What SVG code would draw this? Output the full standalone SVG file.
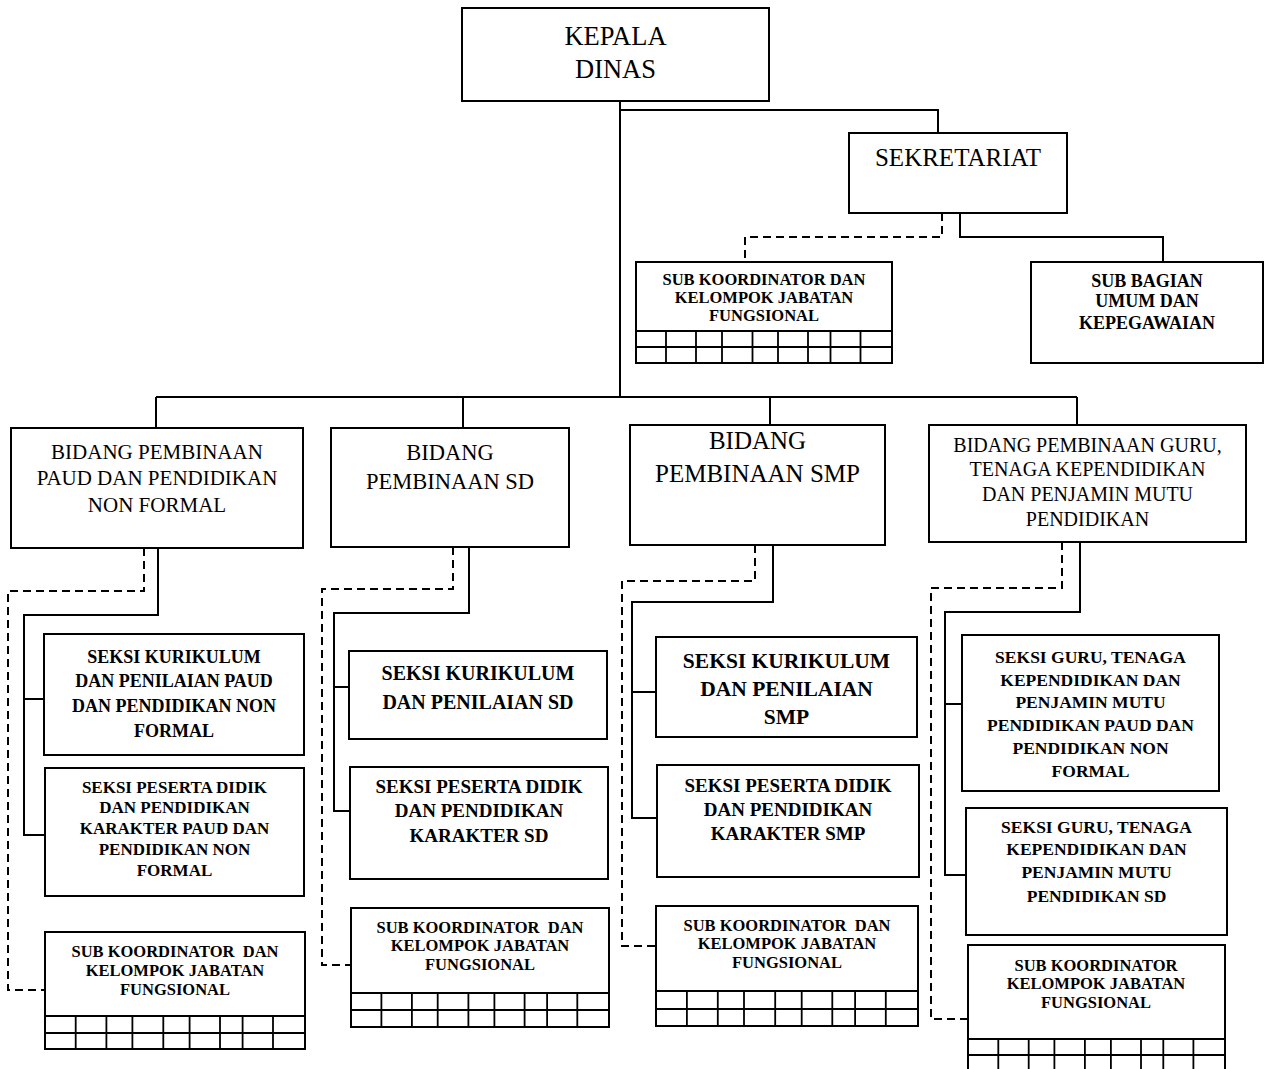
<svg xmlns="http://www.w3.org/2000/svg" width="1270" height="1069" viewBox="0 0 1270 1069">
<style>
.box{fill:#fff;stroke:#000;stroke-width:2}
.ln{fill:none;stroke:#000;stroke-width:2}
.ds{fill:none;stroke:#000;stroke-width:2;stroke-dasharray:8 5}
.g{fill:none;stroke:#000;stroke-width:1.8}
text{font-family:"Liberation Serif","Times New Roman",serif;fill:#000;text-anchor:middle}
.r{font-weight:normal}
.b{font-weight:bold}
</style>
<rect width="1270" height="1069" fill="#fff"/>
<g id="connectors">
<path class="ln" d="M620,101 V397 M620,110 H938 V133"/>
<path class="ds" d="M942,213 V237 H745 V262"/>
<path class="ln" d="M960,213 V237 H1163 V262"/>
<path class="ln" d="M156,397 H1077 M156,397 V428 M463,397 V428 M770,397 V425 M1077,397 V425"/>
<path class="ds" d="M144,548 V591 H8 V990 H45"/>
<path class="ln" d="M158,548 V615 H24 V835 H45 M24,699 H44"/>
<path class="ds" d="M453,547 V589 H322 V965 H351"/>
<path class="ln" d="M469,547 V613 H334 V811 H350 M334,687 H349"/>
<path class="ds" d="M755,545 V581 H622 V946 H656"/>
<path class="ln" d="M773,545 V602 H632 V818 H657 M632,692 H656"/>
<path class="ds" d="M1062,542 V588 H931 V1019 H968"/>
<path class="ln" d="M1080,542 V612 H945 V875 H966 M945,704 H962"/>
</g>
<g id="kepala-dinas">
<rect class="box" x="462" y="8" width="307" height="93"/>
<text class="r" x="615.5" y="45" font-size="26.5">KEPALA</text>
<text class="r" x="615.5" y="78" font-size="26.5">DINAS</text>
</g>
<g id="sekretariat">
<rect class="box" x="849" y="133" width="218" height="80"/>
<text class="r" x="958" y="166" font-size="25">SEKRETARIAT</text>
</g>
<g id="sub-koordinator-sekretariat">
<rect class="box" x="636" y="262" width="256" height="101"/>
<path class="g" d="M636,331 H892 M636,347 H892 M666,331 V363 M696,331 V363 M722,331 V363 M752.5,331 V363 M778,331 V363 M808,331 V363 M830.5,331 V363 M860.5,331 V363"/>
<text class="b" x="764" y="285" font-size="16.5">SUB KOORDINATOR DAN</text>
<text class="b" x="764" y="303" font-size="16.5">KELOMPOK JABATAN</text>
<text class="b" x="764" y="321" font-size="16.5">FUNGSIONAL</text>
</g>
<g id="sub-bagian-umum">
<rect class="box" x="1031" y="262" width="232" height="101"/>
<text class="b" x="1147" y="287" font-size="18">SUB BAGIAN</text>
<text class="b" x="1147" y="307" font-size="18">UMUM DAN</text>
<text class="b" x="1147" y="329" font-size="18">KEPEGAWAIAN</text>
</g>
<g id="bidang-paud">
<rect class="box" x="11" y="428" width="292" height="120"/>
<text class="r" x="157" y="459" font-size="21">BIDANG PEMBINAAN</text>
<text class="r" x="157" y="485" font-size="21">PAUD DAN PENDIDIKAN</text>
<text class="r" x="157" y="512" font-size="21">NON FORMAL</text>
</g>
<g id="bidang-sd">
<rect class="box" x="331" y="428" width="238" height="119"/>
<text class="r" x="450" y="460" font-size="22.5">BIDANG</text>
<text class="r" x="450" y="489" font-size="22.5">PEMBINAAN SD</text>
</g>
<g id="bidang-smp">
<rect class="box" x="630" y="425" width="255" height="120"/>
<text class="r" x="757.5" y="449" font-size="25">BIDANG</text>
<text class="r" x="757.5" y="482" font-size="25">PEMBINAAN SMP</text>
</g>
<g id="bidang-guru">
<rect class="box" x="929" y="425" width="317" height="117"/>
<text class="r" x="1087.5" y="452" font-size="20">BIDANG PEMBINAAN GURU,</text>
<text class="r" x="1087.5" y="476" font-size="20">TENAGA KEPENDIDIKAN</text>
<text class="r" x="1087.5" y="501" font-size="20">DAN PENJAMIN MUTU</text>
<text class="r" x="1087.5" y="526" font-size="20">PENDIDIKAN</text>
</g>
<g id="seksi-kurikulum-paud">
<rect class="box" x="44" y="634" width="260" height="121"/>
<text class="b" x="174" y="663" font-size="18">SEKSI KURIKULUM</text>
<text class="b" x="174" y="687" font-size="18">DAN PENILAIAN PAUD</text>
<text class="b" x="174" y="712" font-size="18">DAN PENDIDIKAN NON</text>
<text class="b" x="174" y="737" font-size="18">FORMAL</text>
</g>
<g id="seksi-peserta-paud">
<rect class="box" x="45" y="768" width="259" height="128"/>
<text class="b" x="174.5" y="793" font-size="17">SEKSI PESERTA DIDIK</text>
<text class="b" x="174.5" y="813" font-size="17">DAN PENDIDIKAN</text>
<text class="b" x="174.5" y="834" font-size="17">KARAKTER PAUD DAN</text>
<text class="b" x="174.5" y="855" font-size="17">PENDIDIKAN NON</text>
<text class="b" x="174.5" y="876" font-size="17">FORMAL</text>
</g>
<g id="sub-koordinator-paud">
<rect class="box" x="45" y="932" width="260" height="117"/>
<path class="g" d="M45,1016 H305 M45,1033 H305 M75.7,1016 V1049 M106.4,1016 V1049 M132.4,1016 V1049 M163.3,1016 V1049 M189.6,1016 V1049 M220,1016 V1049 M242.6,1016 V1049 M273,1016 V1049"/>
<text class="b" x="175" y="957" font-size="16.5" xml:space="preserve">SUB KOORDINATOR  DAN</text>
<text class="b" x="175" y="976" font-size="16.5">KELOMPOK JABATAN</text>
<text class="b" x="175" y="995" font-size="16.5">FUNGSIONAL</text>
</g>
<g id="seksi-kurikulum-sd">
<rect class="box" x="349" y="651" width="258" height="88"/>
<text class="b" x="478" y="680" font-size="20">SEKSI KURIKULUM</text>
<text class="b" x="478" y="709" font-size="20">DAN PENILAIAN SD</text>
</g>
<g id="seksi-peserta-sd">
<rect class="box" x="350" y="767" width="258" height="112"/>
<text class="b" x="479" y="793" font-size="19">SEKSI PESERTA DIDIK</text>
<text class="b" x="479" y="817" font-size="19">DAN PENDIDIKAN</text>
<text class="b" x="479" y="842" font-size="19">KARAKTER SD</text>
</g>
<g id="sub-koordinator-sd">
<rect class="box" x="351" y="908" width="258" height="119"/>
<path class="g" d="M351,993 H609 M351,1010 H609 M381.4,993 V1027 M411.9,993 V1027 M437.7,993 V1027 M468.4,993 V1027 M494.4,993 V1027 M524.6,993 V1027 M547.1,993 V1027 M577.3,993 V1027"/>
<text class="b" x="480" y="933" font-size="16.5" xml:space="preserve">SUB KOORDINATOR  DAN</text>
<text class="b" x="480" y="951" font-size="16.5">KELOMPOK JABATAN</text>
<text class="b" x="480" y="970" font-size="16.5">FUNGSIONAL</text>
</g>
<g id="seksi-kurikulum-smp">
<rect class="box" x="656" y="637" width="261" height="100"/>
<text class="b" x="786.5" y="668" font-size="21.5">SEKSI KURIKULUM</text>
<text class="b" x="786.5" y="696" font-size="21.5">DAN PENILAIAN</text>
<text class="b" x="786.5" y="724" font-size="21.5">SMP</text>
</g>
<g id="seksi-peserta-smp">
<rect class="box" x="657" y="765" width="262" height="112"/>
<text class="b" x="788" y="792" font-size="19">SEKSI PESERTA DIDIK</text>
<text class="b" x="788" y="816" font-size="19">DAN PENDIDIKAN</text>
<text class="b" x="788" y="840" font-size="19">KARAKTER SMP</text>
</g>
<g id="sub-koordinator-smp">
<rect class="box" x="656" y="906" width="262" height="120"/>
<path class="g" d="M656,991 H918 M656,1009 H918 M686.9,991 V1026 M717.8,991 V1026 M744,991 V1026 M775.2,991 V1026 M801.7,991 V1026 M832.3,991 V1026 M855.1,991 V1026 M885.8,991 V1026"/>
<text class="b" x="787" y="931" font-size="16.5" xml:space="preserve">SUB KOORDINATOR  DAN</text>
<text class="b" x="787" y="949" font-size="16.5">KELOMPOK JABATAN</text>
<text class="b" x="787" y="968" font-size="16.5">FUNGSIONAL</text>
</g>
<g id="seksi-guru-paud">
<rect class="box" x="962" y="635" width="257" height="156"/>
<text class="b" x="1090.5" y="663" font-size="17.5">SEKSI GURU, TENAGA</text>
<text class="b" x="1090.5" y="686" font-size="17.5">KEPENDIDIKAN DAN</text>
<text class="b" x="1090.5" y="708" font-size="17.5">PENJAMIN MUTU</text>
<text class="b" x="1090.5" y="731" font-size="17.5">PENDIDIKAN PAUD DAN</text>
<text class="b" x="1090.5" y="754" font-size="17.5">PENDIDIKAN NON</text>
<text class="b" x="1090.5" y="777" font-size="17.5">FORMAL</text>
</g>
<g id="seksi-guru-sd">
<rect class="box" x="966" y="808" width="261" height="127"/>
<text class="b" x="1096.5" y="833" font-size="17.5">SEKSI GURU, TENAGA</text>
<text class="b" x="1096.5" y="855" font-size="17.5">KEPENDIDIKAN DAN</text>
<text class="b" x="1096.5" y="878" font-size="17.5">PENJAMIN MUTU</text>
<text class="b" x="1096.5" y="902" font-size="17.5">PENDIDIKAN SD</text>
</g>
<g id="sub-koordinator-guru">
<rect class="box" x="968" y="945" width="257" height="126"/>
<path class="g" d="M968,1039 H1225 M968,1055 H1225 M998.3,1039 V1071 M1028.7,1039 V1071 M1054.4,1039 V1071 M1084.9,1039 V1071 M1110.9,1039 V1071 M1141,1039 V1071 M1163.3,1039 V1071 M1193.4,1039 V1071"/>
<text class="b" x="1096" y="971" font-size="16.5">SUB KOORDINATOR</text>
<text class="b" x="1096" y="989" font-size="16.5">KELOMPOK JABATAN</text>
<text class="b" x="1096" y="1008" font-size="16.5">FUNGSIONAL</text>
</g>
</svg>
